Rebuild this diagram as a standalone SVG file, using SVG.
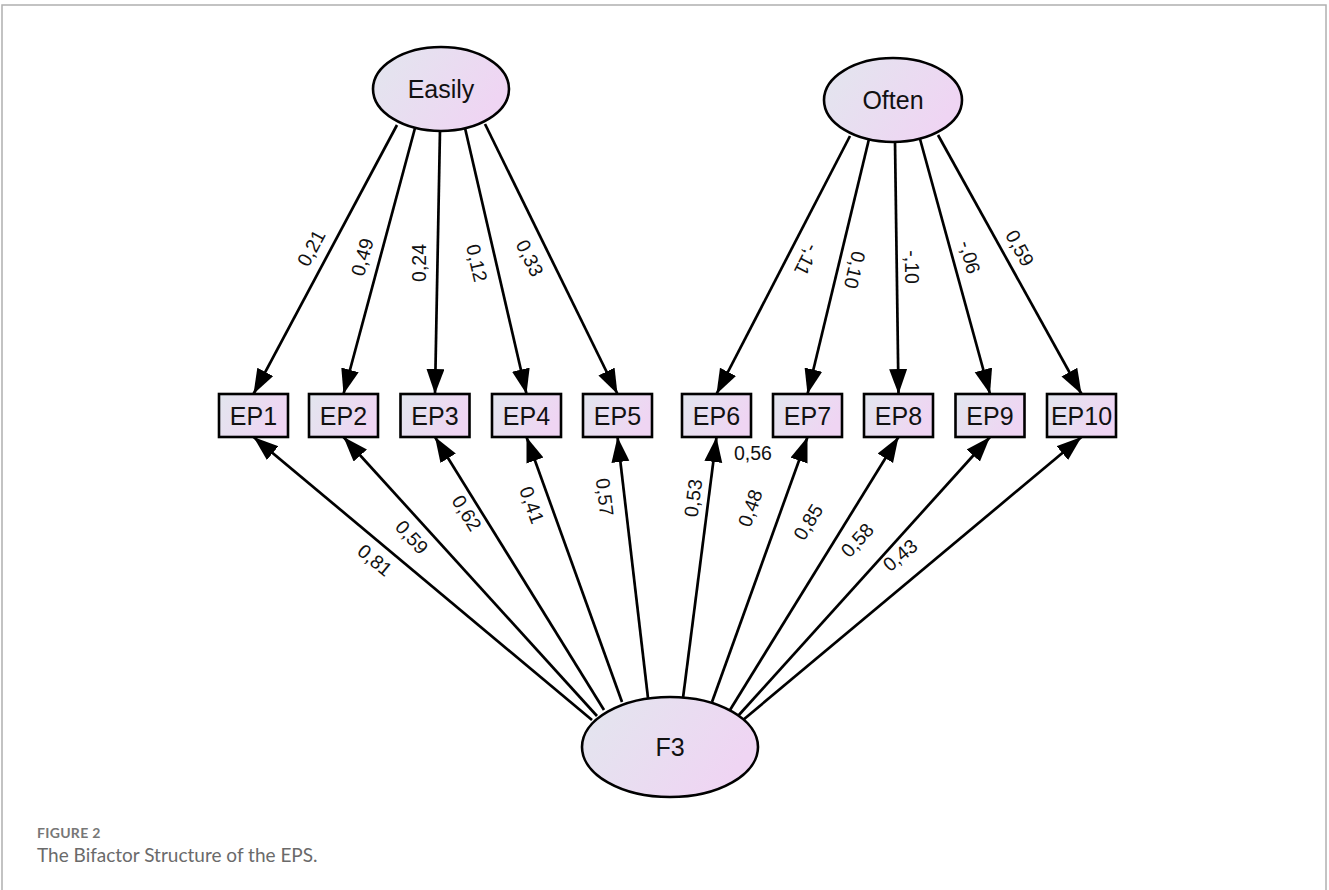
<svg xmlns="http://www.w3.org/2000/svg" width="1329" height="890" viewBox="0 0 1329 890">
<style>
.lat{fill:url(#g);stroke:#000;stroke-width:2.6}
.box{fill:url(#g);stroke:#000;stroke-width:2.6}
.nt{font-family:"Liberation Sans",Arial,sans-serif;font-size:25px;fill:#111;text-anchor:middle}
.path{stroke:#000;stroke-width:2.7;fill:none;marker-end:url(#ah)}
.lb{font-family:"Liberation Sans",Arial,sans-serif;font-size:19.5px;fill:#111;text-anchor:middle;dominant-baseline:central}
.cap1{font-family:Lato,"Open Sans",sans-serif;font-size:14px;font-weight:bold;fill:#777;letter-spacing:0.3px}
.cap2{font-family:Lato,"Open Sans",sans-serif;font-size:19px;fill:#6a6a6a}
</style>
<defs>
<linearGradient id="g" x1="0" y1="0" x2="1" y2="0.4">
<stop offset="0" stop-color="#e2e6ee"/>
<stop offset="1" stop-color="#efd5f3"/>
</linearGradient>
<marker id="ah" markerUnits="userSpaceOnUse" markerWidth="28" markerHeight="20" refX="25" refY="9" orient="auto">
<path d="M0,0 L25,9 L0,18 z" fill="#000"/>
</marker>
</defs>
<rect x="0" y="0" width="1329" height="890" fill="#fff"/>
<rect x="2" y="5" width="1324" height="900" fill="none" stroke="#b0b0b0" stroke-width="1.5"/>
<g id="connectors">
<line class="path" x1="397" y1="125" x2="253.5" y2="394"/>
<line class="path" x1="415" y1="128" x2="343.5" y2="394"/>
<line class="path" x1="440" y1="130" x2="435" y2="394"/>
<line class="path" x1="465" y1="128" x2="526.5" y2="394"/>
<line class="path" x1="485" y1="124" x2="617.5" y2="394"/>
<line class="path" x1="850" y1="136" x2="716.5" y2="394"/>
<line class="path" x1="869" y1="139" x2="807.5" y2="394"/>
<line class="path" x1="895" y1="141" x2="898.5" y2="394"/>
<line class="path" x1="920" y1="139" x2="990" y2="394"/>
<line class="path" x1="938" y1="135" x2="1081.5" y2="394"/>
<line class="path" x1="592" y1="720" x2="253.5" y2="437"/>
<line class="path" x1="597" y1="716" x2="343.5" y2="437"/>
<line class="path" x1="604" y1="710" x2="435" y2="437"/>
<line class="path" x1="622" y1="702" x2="526.5" y2="437"/>
<line class="path" x1="648" y1="698" x2="617.5" y2="437"/>
<line class="path" x1="683" y1="698" x2="716.5" y2="437"/>
<line class="path" x1="712" y1="702" x2="807.5" y2="437"/>
<line class="path" x1="730" y1="710" x2="898.5" y2="437"/>
<line class="path" x1="738" y1="716" x2="990" y2="437"/>
<line class="path" x1="743" y1="720" x2="1081.5" y2="437"/>
</g>
<g id="path-labels">
<text class="lb" transform="translate(311,248) rotate(-61.7)">0,21</text>
<text class="lb" transform="translate(362,257) rotate(-74.6)">0,49</text>
<text class="lb" transform="translate(419,263) rotate(-90)">0,24</text>
<text class="lb" transform="translate(477,263) rotate(76.9)">0,12</text>
<text class="lb" transform="translate(530,258) rotate(63.7)">0,33</text>
<text class="lb" transform="translate(807,260) rotate(117)">-,11</text>
<text class="lb" transform="translate(855,270) rotate(103.5)">0,10</text>
<text class="lb" transform="translate(912,267) rotate(90)">-,10</text>
<text class="lb" transform="translate(970,257) rotate(74.6)">-,06</text>
<text class="lb" transform="translate(1020,248) rotate(61.5)">0,59</text>
<text class="lb" transform="translate(375,560) rotate(39.9)">0,81</text>
<text class="lb" transform="translate(412,537) rotate(47.7)">0,59</text>
<text class="lb" transform="translate(467,513) rotate(58.2)">0,62</text>
<text class="lb" transform="translate(532,505) rotate(70)">0,41</text>
<text class="lb" transform="translate(605,497) rotate(83.2)">0,57</text>
<text class="lb" transform="translate(693,498) rotate(-82.8)">0,53</text>
<text class="lb" x="753" y="453">0,56</text>
<text class="lb" transform="translate(750,508) rotate(-70.3)">0,48</text>
<text class="lb" transform="translate(808,522) rotate(-58.4)">0,85</text>
<text class="lb" transform="translate(857,540) rotate(-47.9)">0,58</text>
<text class="lb" transform="translate(900,555) rotate(-40)">0,43</text>
</g>
<g id="Easily"><ellipse class="lat" cx="441" cy="89" rx="68" ry="42"/><text class="nt" x="441" y="98">Easily</text></g>
<g id="Often"><ellipse class="lat" cx="893" cy="100" rx="69" ry="42"/><text class="nt" x="893" y="109">Often</text></g>
<g id="F3"><ellipse class="lat" cx="670" cy="747" rx="88" ry="50"/><text class="nt" x="670" y="756">F3</text></g>
<g id="EP1"><rect class="box" x="219" y="394" width="69" height="43"/><text class="nt" x="253.5" y="424.5">EP1</text></g>
<g id="EP2"><rect class="box" x="309" y="394" width="69" height="43"/><text class="nt" x="343.5" y="424.5">EP2</text></g>
<g id="EP3"><rect class="box" x="400.5" y="394" width="69" height="43"/><text class="nt" x="435" y="424.5">EP3</text></g>
<g id="EP4"><rect class="box" x="492" y="394" width="69" height="43"/><text class="nt" x="526.5" y="424.5">EP4</text></g>
<g id="EP5"><rect class="box" x="583" y="394" width="69" height="43"/><text class="nt" x="617.5" y="424.5">EP5</text></g>
<g id="EP6"><rect class="box" x="682" y="394" width="69" height="43"/><text class="nt" x="716.5" y="424.5">EP6</text></g>
<g id="EP7"><rect class="box" x="773" y="394" width="69" height="43"/><text class="nt" x="807.5" y="424.5">EP7</text></g>
<g id="EP8"><rect class="box" x="864" y="394" width="69" height="43"/><text class="nt" x="898.5" y="424.5">EP8</text></g>
<g id="EP9"><rect class="box" x="955.5" y="394" width="69" height="43"/><text class="nt" x="990" y="424.5">EP9</text></g>
<g id="EP10"><rect class="box" x="1047" y="394" width="69" height="43"/><text class="nt" x="1081.5" y="424.5">EP10</text></g>
<g id="caption">
<text class="cap1" x="37" y="838">FIGURE 2</text>
<text class="cap2" x="37" y="862">The Bifactor Structure of the EPS.</text>
</g>
</svg>
